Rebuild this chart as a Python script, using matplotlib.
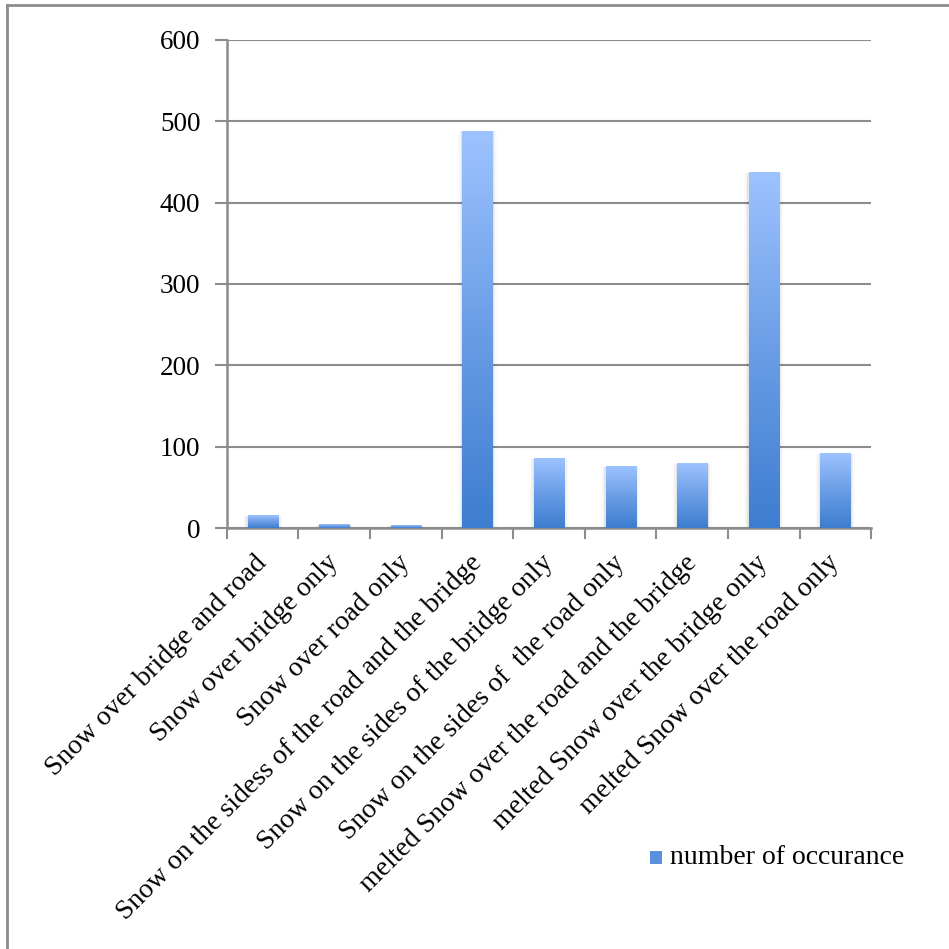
import numpy as np
import matplotlib
matplotlib.use("Agg")
from matplotlib import pyplot as plt
from matplotlib.colors import LinearSegmentedColormap
from matplotlib.patches import Rectangle
from matplotlib.lines import Line2D

categories = [
    "Snow over bridge and road",
    "Snow over bridge only",
    "Snow over road only",
    "Snow on the sidess of the road and the bridge",
    "Snow on the sides of the bridge only",
    "Snow on the sides of  the road only",
    "melted Snow over the road and the bridge",
    "melted Snow over the bridge only",
    "melted Snow over the road only",
]
counts = [15, 4, 3, 488, 85, 75, 79, 437, 91]
yticks = [0, 100, 200, 300, 400, 500, 600]
series_name = "number of occurance"

plt.rcParams['font.family'] = ['Liberation Serif', 'DejaVu Serif']

grey = "#8c8c8c"
cmap = LinearSegmentedColormap.from_list("bar", ["#3d7dcf", "#6a9de6", "#9dc3ff"])
grad = np.linspace(0, 1, 256).reshape(-1, 1)

fig = plt.figure(figsize=(9.49, 9.49), dpi=100)
ax = fig.add_axes([0.239, 0.4436, 0.679, 0.5143])

x = np.arange(len(categories))
w = 0.42
for xi, v in zip(x, counts):
    # soft shadow
    for k, a in enumerate([0.05, 0.035, 0.02]):
        pad = 0.02 * (k + 1)
        ax.add_patch(Rectangle((xi - w / 2 - pad, 0), w + 2 * pad, v,
                               facecolor="#000000", alpha=a, lw=0, zorder=2))
    ax.imshow(grad, cmap=cmap, aspect="auto", origin="lower",
              extent=[xi - w / 2, xi + w / 2, 0, v], zorder=3)

ax.set_xlim(-0.5, len(categories) - 0.5)
ax.set_ylim(0, 600)
ax.set_yticks(yticks)
ax.yaxis.grid(True, color=grey, lw=1.5)
ax.set_axisbelow(True)
ax.tick_params(axis="y", length=9, width=1.5, color=grey, labelsize=19.5, pad=10)

ax.set_xticks(np.arange(len(categories) + 1) - 0.5)
ax.set_xticklabels([])
ax.tick_params(axis="x", length=8, width=1.5, color=grey)
for xi, lab in zip(x, categories):
    ax.annotate(lab, xy=(xi, 0), xycoords=("data", "axes fraction"),
                xytext=(-6, -16), textcoords="offset points",
                rotation=45, ha="right", va="top", fontsize=20,
                rotation_mode="anchor")

for s in ["top", "right"]:
    ax.spines[s].set_visible(False)
for s in ["left", "bottom"]:
    ax.spines[s].set_color(grey)
    ax.spines[s].set_linewidth(1.8)

# legend
fig.add_artist(Rectangle((650 / 949, 1 - 864 / 949), 12 / 949, 13 / 949,
                         transform=fig.transFigure, facecolor="#5a90dc", lw=0))
fig.text(670 / 949, 1 - 857 / 949, series_name, fontsize=20, va="center")

# outer frame (left and top edges)
fig.add_artist(Line2D([7 / 949, 7 / 949], [0, 1 - 5 / 949], transform=fig.transFigure,
                      color=grey, lw=2))
fig.add_artist(Line2D([7 / 949, 1], [1 - 5 / 949, 1 - 5 / 949], transform=fig.transFigure,
                      color=grey, lw=2))

fig.savefig("out.png", dpi=100, facecolor="white")
